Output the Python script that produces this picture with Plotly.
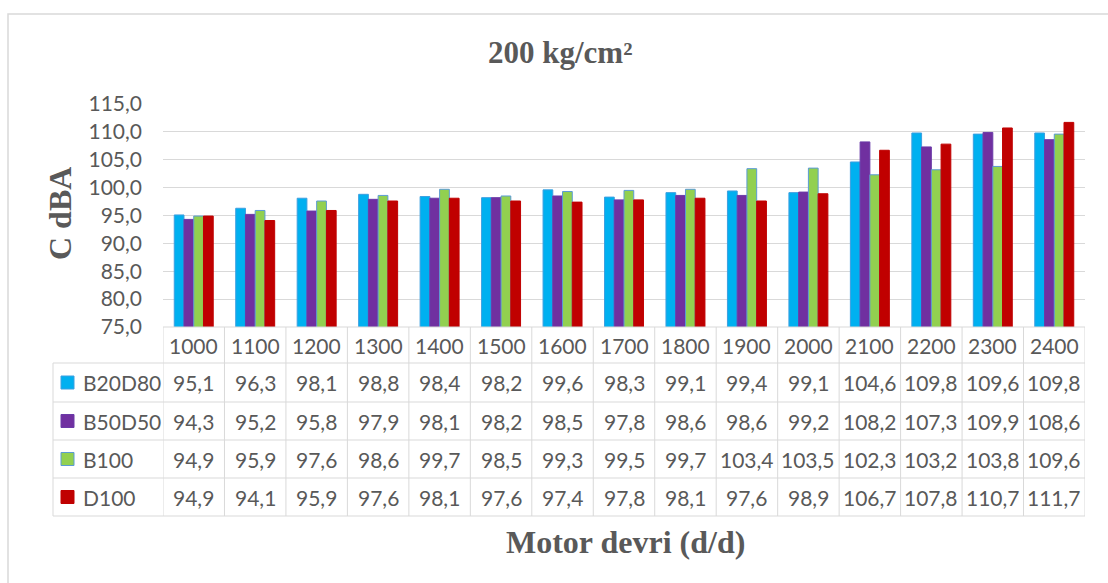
import plotly.graph_objects as go

# ---------------- data ----------------
categories = ["1000", "1100", "1200", "1300", "1400", "1500", "1600", "1700",
              "1800", "1900", "2000", "2100", "2200", "2300", "2400"]
b20d80 = [95.1, 96.3, 98.1, 98.8, 98.4, 98.2, 99.6, 98.3, 99.1, 99.4, 99.1, 104.6, 109.8, 109.6, 109.8]
b50d50 = [94.3, 95.2, 95.8, 97.9, 98.1, 98.2, 98.5, 97.8, 98.6, 98.6, 99.2, 108.2, 107.3, 109.9, 108.6]
b100 = [94.9, 95.9, 97.6, 98.6, 99.7, 98.5, 99.3, 99.5, 99.7, 103.4, 103.5, 102.3, 103.2, 103.8, 109.6]
d100 = [94.9, 94.1, 95.9, 97.6, 98.1, 97.6, 97.4, 97.8, 98.1, 97.6, 98.9, 106.7, 107.8, 110.7, 111.7]
series_names = ["B20D80", "B50D50", "B100", "D100"]
series_values = [b20d80, b50d50, b100, d100]
series_colors = ["#00B0F0", "#7030A0", "#92D050", "#C00000"]
series_edges = ["#3C9FE0", "#6A3AA8", "#5B9BD5", "#C00000"]

title_text = "<b>200 kg/cm²</b>"
y_title = "<b>C dBA</b>"
x_title = "<b>Motor devri (d/d)</b>"

# ---------------- layout geometry (pixels) ----------------
W, H = 1108, 583
PL, PR, PT, PB = 163, 1085, 104, 327
TXT = "#595959"
GRID = "#D9D9D9"
SANS = "Lato"
SERIF = "Liberation Serif"


def pxx(p):
    return (p - PL) / (PR - PL)


def pyy(p):
    return (PB - p) / (PB - PT)


def fmt(v):
    return f"{v:.1f}".replace(".", ",")


fig = go.Figure()
for name, vals, col, edge in zip(series_names, series_values, series_colors, series_edges):
    fig.add_trace(go.Bar(
        name=name, x=categories, y=vals,
        marker=dict(color=col, line=dict(color=edge, width=1)),
        showlegend=False,
    ))

shapes = []
annotations = []

# table row boundaries (pixels)
header_top, header_bot = PB, 363
row_bounds = [363, 402, 440, 478, 516]
legend_left = 53
n = len(categories)

line = dict(color=GRID, width=1)
shapes.append(dict(type="line", xref="paper", yref="paper", x0=0, x1=1,
                   y0=pyy(header_top), y1=pyy(header_top), line=line))
for rb in row_bounds:
    shapes.append(dict(type="line", xref="paper", yref="paper", x0=pxx(legend_left), x1=1,
                       y0=pyy(rb), y1=pyy(rb), line=line))
for i in range(n + 1):
    shapes.append(dict(type="line", xref="x", yref="paper", x0=i - 0.5, x1=i - 0.5,
                       y0=pyy(header_top), y1=pyy(row_bounds[-1]), line=line))
shapes.append(dict(type="line", xref="paper", yref="paper", x0=pxx(legend_left), x1=pxx(legend_left),
                   y0=pyy(row_bounds[0]), y1=pyy(row_bounds[-1]), line=line))

# outer chart border
shapes.append(dict(type="rect", xref="paper", yref="paper",
                   x0=pxx(8), x1=pxx(1130), y0=pyy(14), y1=pyy(600),
                   line=dict(color="#D9D9D9", width=1.5), fillcolor="rgba(0,0,0,0)"))

# header row: categories
hy = pyy((header_top + header_bot) / 2)
for i, c in enumerate(categories):
    annotations.append(dict(x=i, xref="x", y=hy, yref="paper", text=c, showarrow=False,
                            font=dict(family=SANS, size=21, color=TXT),
                            xanchor="center", yanchor="middle"))

# data rows
for r, (name, vals, col, edge) in enumerate(zip(series_names, series_values, series_colors, series_edges)):
    top, bot = row_bounds[r], row_bounds[r + 1]
    cy = (top + bot) / 2
    shapes.append(dict(type="rect", xref="paper", yref="paper",
                       x0=pxx(61), x1=pxx(74), y0=pyy(cy - 6.5), y1=pyy(cy + 6.5),
                       fillcolor=col, line=dict(color=edge, width=1)))
    annotations.append(dict(x=pxx(81), xref="paper", y=pyy(cy), yref="paper", text=name,
                            showarrow=False, font=dict(family=SANS, size=21, color=TXT),
                            xanchor="left", yanchor="middle"))
    for i, v in enumerate(vals):
        annotations.append(dict(x=i, xref="x", y=pyy(cy), yref="paper", text=fmt(v),
                                showarrow=False, font=dict(family=SANS, size=21, color=TXT),
                                xanchor="center", yanchor="middle"))

# titles
annotations.append(dict(x=pxx(560), xref="paper", y=pyy(52), yref="paper", text=title_text,
                        showarrow=False, font=dict(family=SERIF, size=31, color=TXT),
                        xanchor="center", yanchor="middle"))
annotations.append(dict(x=pxx(60), xref="paper", y=pyy(214), yref="paper", text=y_title,
                        showarrow=False, textangle=-90,
                        font=dict(family=SERIF, size=32, color=TXT),
                        xanchor="center", yanchor="middle"))
annotations.append(dict(x=pxx(625), xref="paper", y=pyy(542), yref="paper", text=x_title,
                        showarrow=False, font=dict(family=SERIF, size=32, color=TXT),
                        xanchor="center", yanchor="middle"))

fig.update_layout(
    width=W, height=H,
    margin=dict(l=PL, r=W - PR, t=PT, b=H - PB, autoexpand=False),
    paper_bgcolor="white", plot_bgcolor="white",
    barmode="group", bargap=0.366, bargroupgap=0,
    separators=", ",
    shapes=shapes, annotations=annotations,
    xaxis=dict(type="category", showticklabels=False, showgrid=False, zeroline=False,
               showline=False, ticks="", range=[-0.5, n - 0.5]),
    yaxis=dict(range=[75, 115], dtick=5, tick0=75, tickformat=".1f",
               showgrid=True, gridcolor=GRID, gridwidth=1, zeroline=False, showline=False,
               ticks="", ticklabelstandoff=20,
               tickfont=dict(family=SANS, size=21, color=TXT)),
)

fig.write_html("out.html", config={"displayModeBar": False},
               post_script="document.body.style.margin='0';document.body.style.padding='0';")
